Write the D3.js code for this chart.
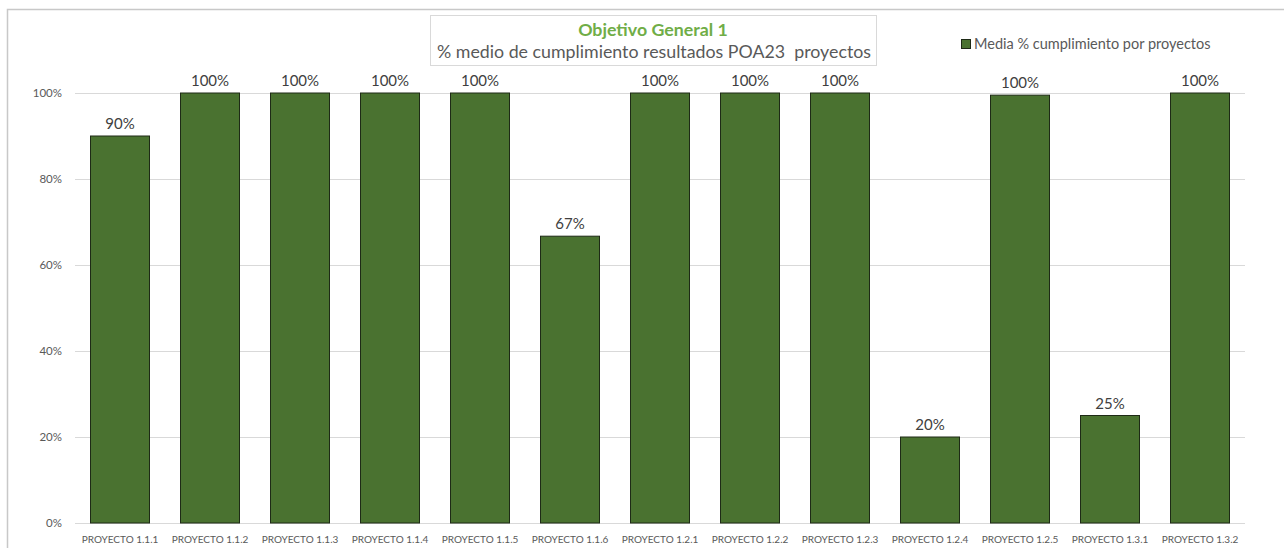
<!DOCTYPE html>
<html><head><meta charset="utf-8">
<script src="https://cdn.jsdelivr.net/npm/d3@7"></script>
<style>body{margin:0;background:#fff}svg{display:block}</style>
</head><body>
<svg id="c" width="1284" height="548"></svg>
<script>
const categories = ["PROYECTO 1.1.1","PROYECTO 1.1.2","PROYECTO 1.1.3","PROYECTO 1.1.4","PROYECTO 1.1.5","PROYECTO 1.1.6","PROYECTO 1.2.1","PROYECTO 1.2.2","PROYECTO 1.2.3","PROYECTO 1.2.4","PROYECTO 1.2.5","PROYECTO 1.3.1","PROYECTO 1.3.2"];
const values = [0.90,1.00,1.00,1.00,1.00,0.667,1.00,1.00,1.00,0.20,0.995,0.25,1.00];
const yTicks = [0,0.2,0.4,0.6,0.8,1.0];
const titleText = "Objetivo General 1";
const subtitleText = "% medio de cumplimiento resultados POA23  proyectos";
const seriesName = "Media % cumplimiento por proyectos";

const font = "Lato, 'Open Sans', 'Liberation Sans', sans-serif";
const svg = d3.select("#c");
// outer frame
svg.append("path").attr("d","M7.5,548 V9.5 H1284").attr("fill","none").attr("stroke","#c8c8c8").attr("stroke-width",1.5);

const x = d3.scaleBand().domain(categories).range([75,1245]).paddingInner(1/3).paddingOuter(1/6);
const y = d3.scaleLinear().domain([0,1]).range([523,93]);

// gridlines
svg.append("g").selectAll("line").data(yTicks).join("line")
  .attr("x1",75).attr("x2",1245).attr("y1",d=>Math.round(y(d))+0.5).attr("y2",d=>Math.round(y(d))+0.5)
  .attr("stroke","#d9d9d9").attr("stroke-width",1);

// y axis labels
const yAxis = d3.axisLeft(y).tickValues(yTicks).tickFormat(d3.format(".0%")).tickSize(0).tickPadding(0);
const gy = svg.append("g").attr("transform","translate(62,0)").call(yAxis);
gy.select(".domain").remove();
gy.selectAll("text").attr("fill","#595959").style("font-family",font).style("font-size","11.5px");

// bars
svg.append("g").selectAll("rect").data(values).join("rect")
  .attr("x",(d,i)=>x(categories[i])+0.5).attr("width",x.bandwidth()-1)
  .attr("y",d=>y(d)).attr("height",d=>y(0)-y(d))
  .attr("fill","#4a7230").attr("stroke","#1e2a16").attr("stroke-width",1);

// data labels
svg.append("g").selectAll("text").data(values).join("text")
  .attr("x",(d,i)=>x(categories[i])+x.bandwidth()/2).attr("y",d=>y(d)-7)
  .attr("text-anchor","middle").attr("fill","#404040")
  .style("font-family",font).style("font-size","15px")
  .text(d=>d3.format(".0%")(d));

// x axis
const xAxis = d3.axisBottom(x).tickSize(0).tickPadding(0);
const gx = svg.append("g").attr("transform","translate(0,534)").call(xAxis);
gx.select(".domain").remove();
gx.selectAll("text").attr("fill","#595959").attr("dy","0.9em").style("font-family",font).style("font-size","10px");

// title box
svg.append("rect").attr("x",430.5).attr("y",15.5).attr("width",446).attr("height",50)
  .attr("fill","#fff").attr("stroke","#d9d9d9").attr("stroke-width",1);
svg.append("text").attr("x",653).attr("y",36).attr("text-anchor","middle")
  .attr("fill","#70ad47").style("font-family",font).style("font-size","17.8px").style("font-weight","bold").text(titleText);
svg.append("text").attr("x",654).attr("y",58).attr("text-anchor","middle").style("white-space","pre")
  .attr("fill","#595959").style("font-family",font).style("font-size","17.8px").text(subtitleText);

// legend
svg.append("rect").attr("x",961.5).attr("y",39.5).attr("width",9).attr("height",9)
  .attr("fill","#4a7230").attr("stroke","#1e2a16").attr("stroke-width",1);
svg.append("text").attr("x",974).attr("y",49).attr("fill","#595959")
  .style("font-family",font).style("font-size","14.5px").text(seriesName);
</script>
</body></html>
